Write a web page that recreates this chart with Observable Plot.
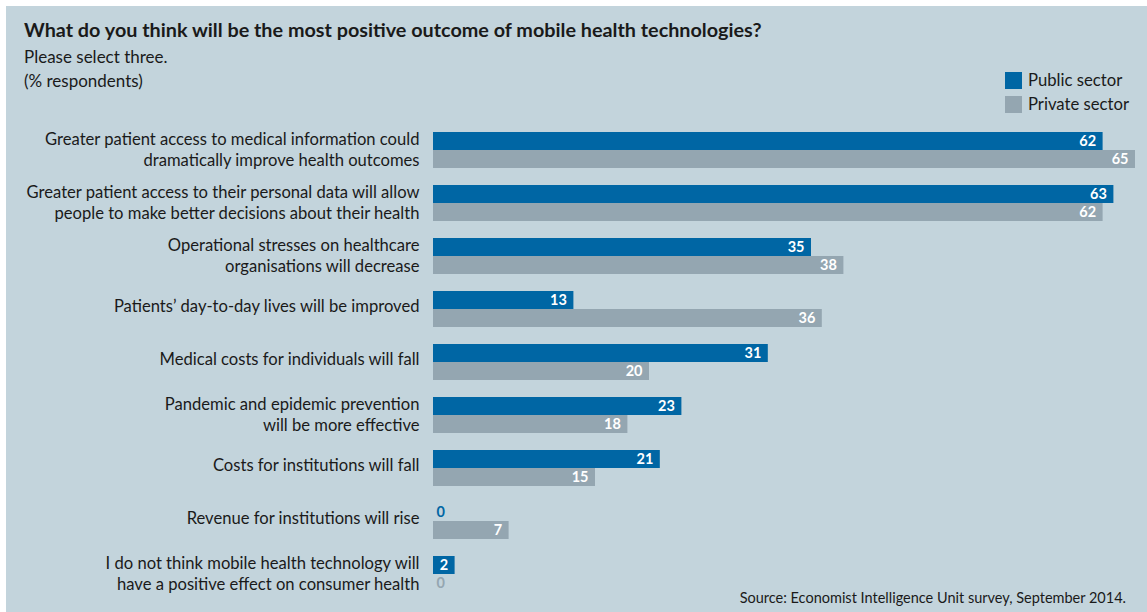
<!DOCTYPE html>
<html><head><meta charset="utf-8">
<script src="https://cdn.jsdelivr.net/npm/d3@7"></script>
<script src="https://cdn.jsdelivr.net/npm/@observablehq/plot@0.6"></script>
<style>
html,body{margin:0;padding:0;background:#fff;}
body{width:1147px;height:612px;overflow:hidden;position:relative;font-family:Lato,"Noto Sans",sans-serif;color:#1a1a1a;}
#panel{position:absolute;left:6px;top:6px;width:1141px;height:606px;background:#c3d4dc;}
.abs{position:absolute;white-space:nowrap;line-height:1;}
#title{left:24px;top:20px;font-size:19.8px;font-weight:bold;}
#sub1{left:24px;top:48px;font-size:17px;}
#sub2{left:24px;top:72px;font-size:17px;}
#legend{left:1005px;top:72px;font-size:16.7px;}
#legend .row{display:flex;align-items:center;height:17px;margin-bottom:7px;}
#legend .sw{width:17px;height:17px;margin-right:6px;}
#chart{position:absolute;left:0;top:128px;}
#source{right:21px;top:591px;font-size:14.5px;}
</style>
</head><body>
<div id="panel"></div>
<div id="title" class="abs">What do you think will be the most positive outcome of mobile health technologies?</div>
<div id="sub1" class="abs">Please select three.</div>
<div id="sub2" class="abs">(% respondents)</div>
<div id="legend" class="abs"></div>
<div id="chart"></div>
<div id="source" class="abs">Source: Economist Intelligence Unit survey, September 2014.</div>
<script>
const categories = [
  "Greater patient access to medical information could dramatically improve health outcomes",
  "Greater patient access to their personal data will allow people to make better decisions about their health",
  "Operational stresses on healthcare organisations will decrease",
  "Patients’ day-to-day lives will be improved",
  "Medical costs for individuals will fall",
  "Pandemic and epidemic prevention will be more effective",
  "Costs for institutions will fall",
  "Revenue for institutions will rise",
  "I do not think mobile health technology will have a positive effect on consumer health"
];
const tickLabels = [
  "Greater patient access to medical information could\ndramatically improve health outcomes",
  "Greater patient access to their personal data will allow\npeople to make better decisions about their health",
  "Operational stresses on healthcare\norganisations will decrease",
  "Patients’ day-to-day lives will be improved",
  "Medical costs for individuals will fall",
  "Pandemic and epidemic prevention\nwill be more effective",
  "Costs for institutions will fall",
  "Revenue for institutions will rise",
  "I do not think mobile health technology will\nhave a positive effect on consumer health"
];
const sectors = ["Public sector", "Private sector"];
const sectorColors = ["#0066a4", "#94a6b1"];
const publicValues = [62, 63, 35, 13, 31, 23, 21, 0, 2];
const privateValues = [65, 62, 38, 36, 20, 18, 15, 7, 0];

const rows = [];
categories.forEach((c, i) => {
  rows.push({category: c, sector: sectors[0], value: publicValues[i]});
  rows.push({category: c, sector: sectors[1], value: privateValues[i]});
});
const labelOf = new Map(categories.map((c, i) => [c, tickLabels[i]]));
const multi = categories.filter(c => labelOf.get(c).includes("\n"));
const single = categories.filter(c => !labelOf.get(c).includes("\n"));

const labelOpts = {
  fy: d => d, text: d => labelOf.get(d), frameAnchor: "left",
  textAnchor: "end", dx: -14, lineHeight: 1.27, fontSize: 16.6, fill: "#1a1a1a"
};

const plot = Plot.plot({
  width: 1147,
  height: 467,
  marginLeft: 433,
  marginRight: 12,
  marginTop: 0,
  marginBottom: 0,
  style: {background: "transparent", fontFamily: "Lato, 'Noto Sans', sans-serif", overflow: "visible", color: "#1a1a1a"},
  x: {domain: [0, 65], axis: null},
  y: {domain: sectors, padding: 0, axis: null},
  fy: {domain: categories, paddingInner: 0.3, paddingOuter: 0.05, axis: null},
  color: {domain: sectors, range: sectorColors},
  marks: [
    Plot.barX(rows, {x: "value", y: "sector", fy: "category", fill: "sector"}),
    Plot.text(rows.filter(d => d.value > 0), {
      x: "value", y: "sector", fy: "category", text: d => String(d.value),
      textAnchor: "end", dx: -7, fill: "white", fontWeight: "bold", fontSize: 14.5
    }),
    Plot.text(rows.filter(d => d.value === 0), {
      x: "value", y: "sector", fy: "category", text: d => String(d.value),
      textAnchor: "start", dx: 3, fill: "sector", fontWeight: "bold", fontSize: 14.5
    }),
    Plot.text(multi, {...labelOpts, dy: -1.5}),
    Plot.text(single, {...labelOpts, dy: -4})
  ]
});
document.getElementById("chart").appendChild(plot);

const legend = document.getElementById("legend");
sectors.forEach((s, i) => {
  const row = document.createElement("div");
  row.className = "row";
  row.innerHTML = `<span class="sw" style="background:${sectorColors[i]}"></span><span>${s}</span>`;
  legend.appendChild(row);
});
</script>
</body></html>
